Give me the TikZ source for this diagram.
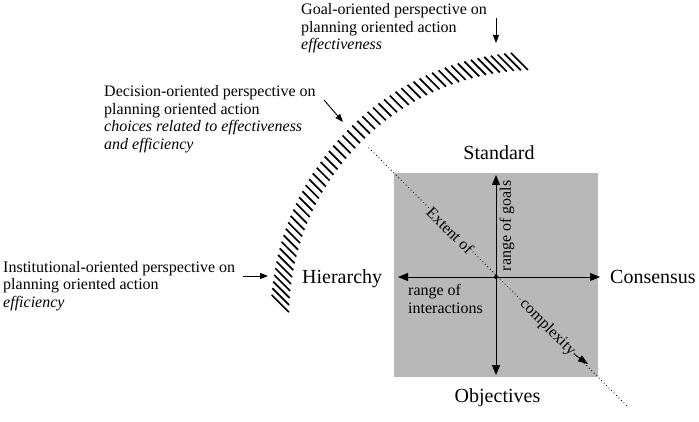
\documentclass[tikz,border=0pt]{standalone}
\usepackage{fontspec}
\setmainfont{Liberation Serif}
\usetikzlibrary{arrows.meta,calc}
\definecolor{sq}{gray}{0.72}
\begin{document}
\begin{tikzpicture}[x=1pt,y=1pt,
  small/.style={font=\fontsize{16}{17.5}\selectfont, inner sep=0pt, align=left},
  big/.style={font=\fontsize{20}{22}\selectfont, inner sep=0pt},
  axis/.style={line width=1pt, {Triangle[length=10pt,width=8pt]}-{Triangle[length=10pt,width=8pt]}},
  pointer/.style={line width=0.9pt, -{Triangle[length=8pt,width=6pt]}},
  hatch/.style={line width=1.7pt},
  diag/.style={line width=1.2pt, dash pattern=on 0pt off 3.5pt, line cap=round},
  onsq/.style={font=\fontsize{16}{17.5}\selectfont, inner sep=1pt, fill=sq, rotate=-45}]
\useasboundingbox (0,0) rectangle (699,421);
% hatched arc
\coordinate (C) at (535,105);
\foreach \t in {93.5,95.05,...,177.5}{
  \pgfmathsetmacro\h{9/abs(cos(135-\t))}
  \draw[hatch] ($(C)+(\t:255)+(135:\h)$) -- ($(C)+(\t:255)-(135:\h)$);
}
% square
\node[fill=sq, minimum width=204pt, minimum height=204pt, inner sep=0pt] (sqr) at (496,146) {};
\coordinate (O) at (496,144);
\coordinate (vt) at (496,246);
\coordinate (vb) at (496,46);
\coordinate (hl) at (398,144);
\coordinate (hr) at (600,144);
\coordinate (ds) at (369,273);
\coordinate (de) at (628,14);
\coordinate (ctip) at (588,57);
\draw[diag] (ds) -- (de);
\draw[axis] (vb) -- (vt);
\draw[axis] (hl) -- (hr);
\fill (O) circle (2pt);
\node[onsq] (ext) at ($(O)!0.36!(ds)$) {Extent of};
\node[onsq] (cx) at ($(O)!0.39!(de)$) {complexity};
\draw[line width=0.9pt, -{Triangle[length=10pt,width=7pt]}] (cx.east) -- (ctip);
\node[small, rotate=90] (rg) at (507,195) {range of goals};
\node[small, anchor=base west] (ri) at (408,108) {range of\\interactions};
% axis labels
\node[big, anchor=base] (std) at (499,261) {Standard};
\node[big, anchor=base] (obj) at (497.5,19) {Objectives};
\node[big, anchor=base west] (con) at (610,138) {Consensus};
\node[big, anchor=base west] (hie) at (302,138) {Hierarchy};
% perspective texts (base = last line)
\node[small, anchor=base west] (goal) at (301,371) {Goal-oriented perspective on\\planning oriented action\\\textit{effectiveness}};
\node[small, anchor=base west] (dec) at (104,271.5) {Decision-oriented perspective on\\planning oriented action\\\textit{choices related to effectiveness}\\\textit{and efficiency}};
\node[small, anchor=base west] (inst) at (3,114) {Institutional-oriented perspective on\\planning oriented action\\\textit{efficiency}};
% pointers
\coordinate (ga) at (496,403);
\coordinate (gb) at (496,378);
\coordinate (da) at (324,321);
\coordinate (db) at (343,299);
\coordinate (ia) at (243,145);
\coordinate (ib) at (268,145);
\draw[pointer] (ga) -- (gb);
\draw[pointer] (da) -- (db);
\draw[pointer] (ia) -- (ib);
\end{tikzpicture}
\end{document}
